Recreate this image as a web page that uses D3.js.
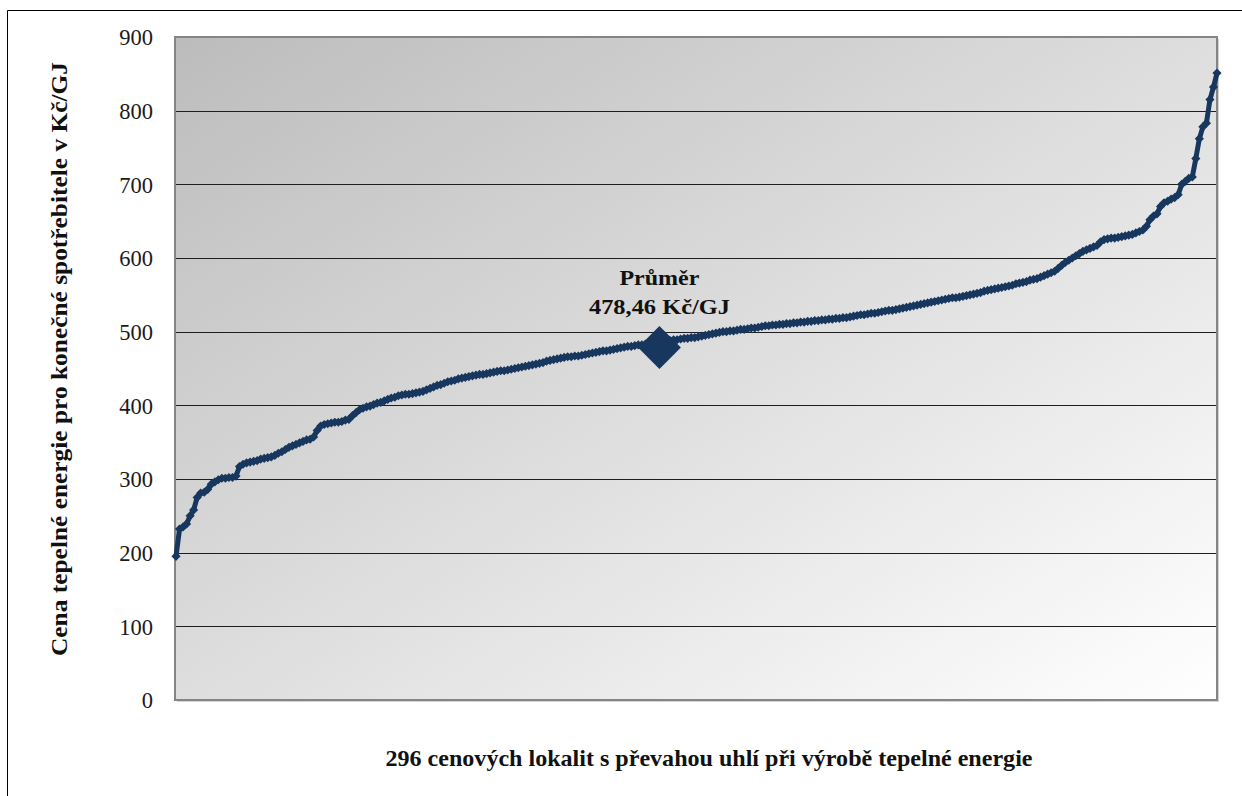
<!DOCTYPE html>
<html>
<head>
<meta charset="utf-8">
<script src="https://cdn.jsdelivr.net/npm/d3@7"></script>
<style>
  body { margin: 0; background: #fff; }
  text { font-family: "Liberation Serif", "Times New Roman", serif; }
</style>
</head>
<body>
<svg id="chart" width="1242" height="796"></svg>
<script>
// Heat price per locality (Kč/GJ), 296 localities sorted ascending
const prices = [
  195, 232, 235, 239, 250, 258, 275, 281, 282, 286,
  293, 296, 299, 301, 301, 302, 302, 304, 317, 320,
  322, 323, 324, 325, 327, 328, 329, 330, 332, 335,
  337, 340, 343, 345, 347, 349, 351, 353, 354, 357,
  366, 372, 374, 375, 376, 377, 377, 378, 380, 381,
  386, 390, 394, 396, 398, 399, 401, 403, 404, 406,
  408, 410, 411, 413, 414, 415, 415, 416, 417, 418,
  419, 421, 423, 425, 427, 428, 430, 432, 433, 434,
  436, 437, 438, 439, 440, 441, 442, 442, 443, 444,
  445, 446, 447, 447, 448, 449, 450, 451, 452, 453,
  454, 455, 456, 457, 458, 460, 461, 462, 463, 464,
  465, 466, 466, 467, 467, 468, 469, 470, 471, 472,
  473, 474, 474, 475, 476, 477, 478, 479, 480, 480,
  481, 482, 482, 483, 484, 484, 485, 486, 486, 487,
  488, 489, 489, 490, 491, 491, 492, 492, 493, 494,
  495, 496, 497, 498, 499, 500, 500, 501, 501, 502,
  503, 503, 504, 505, 505, 506, 507, 508, 508, 509,
  509, 510, 510, 511, 511, 512, 512, 513, 513, 514,
  514, 515, 515, 516, 516, 517, 517, 518, 518, 519,
  519, 520, 521, 522, 523, 523, 524, 525, 525, 526,
  527, 528, 529, 529, 530, 531, 532, 533, 534, 535,
  536, 537, 538, 539, 540, 541, 542, 543, 544, 545,
  546, 546, 547, 548, 549, 550, 551, 552, 553, 555,
  556, 557, 558, 559, 560, 561, 562, 563, 565, 566,
  567, 568, 570, 571, 572, 574, 576, 578, 580, 582,
  586, 590, 594, 597, 600, 603, 606, 609, 611, 613,
  615, 617, 622, 625, 626, 627, 627, 628, 629, 630,
  631, 632, 634, 636, 638, 643, 652, 657, 660, 670,
  675, 677, 680, 682, 686, 700, 704, 708, 710, 735,
  762, 778, 783, 815, 832, 851
];
const yTicks = [0, 100, 200, 300, 400, 500, 600, 700, 800, 900];
const averageValue = [478.46];
const averageIndex = [137];
const averageLabel = ["Průměr", "478,46 Kč/GJ"];
const yTitle = "Cena tepelné energie pro konečné spotřebitele v Kč/GJ";
const xTitle = "296 cenových lokalit s převahou uhlí při výrobě tepelné energie";

const svg = d3.select("#chart");
const plot = { left: 175, right: 1217, top: 37, bottom: 700 };
const lineColor = "#17375e";
const serif = "'Liberation Serif', 'Times New Roman', serif";

const x = d3.scaleLinear().domain([0, prices.length - 1]).range([plot.left + 1, plot.right]);
const y = d3.scaleLinear().domain([0, 900]).range([plot.bottom, plot.top]);

// outer chart frame (top and left edges)
svg.append("path")
  .attr("d", "M7.5,796V10.5H1242")
  .attr("fill", "none").attr("stroke", "#000").attr("stroke-width", 1);

// plot background gradient
const defs = svg.append("defs");
const grad = defs.append("linearGradient").attr("id", "plotBg")
  .attr("x1", 0).attr("y1", 0).attr("x2", 1).attr("y2", 1);
grad.append("stop").attr("offset", "0%").attr("stop-color", "#bcbcbc");
grad.append("stop").attr("offset", "100%").attr("stop-color", "#ffffff");

// soft shadow under the plot area
svg.append("rect")
  .attr("x", plot.left + 2).attr("y", plot.top + 2)
  .attr("width", plot.right - plot.left).attr("height", plot.bottom - plot.top)
  .attr("fill", "#d4d4d4");
svg.append("rect")
  .attr("x", plot.left).attr("y", plot.top)
  .attr("width", plot.right - plot.left).attr("height", plot.bottom - plot.top)
  .attr("fill", "url(#plotBg)");

// horizontal gridlines
svg.append("g")
  .selectAll("line")
  .data(yTicks.filter(t => t > 0 && t < 900))
  .join("line")
  .attr("x1", plot.left).attr("x2", plot.right)
  .attr("y1", d => Math.round(y(d)) + 0.5).attr("y2", d => Math.round(y(d)) + 0.5)
  .attr("stroke", "#1e1e1e").attr("stroke-width", 1.2);

// plot border
svg.append("rect")
  .attr("x", plot.left).attr("y", plot.top)
  .attr("width", plot.right - plot.left).attr("height", plot.bottom - plot.top)
  .attr("fill", "none").attr("stroke", "#858585").attr("stroke-width", 2);

// y axis labels
const yAxis = d3.axisLeft(y).tickValues(yTicks).tickSize(0).tickPadding(0);
const gy = svg.append("g").attr("transform", `translate(${plot.left - 22},0)`).call(yAxis);
gy.attr("font-family", serif);
gy.select(".domain").remove();
gy.selectAll("text")
  .attr("font-size", 22.5).attr("fill", "#1a1a1a").attr("dy", "0.35em");

// price line with diamond markers
const line = d3.line().x((d, i) => x(i)).y(d => y(d));
svg.append("path")
  .datum(prices)
  .attr("d", line)
  .attr("fill", "none").attr("stroke", lineColor)
  .attr("stroke-width", 5).attr("stroke-linejoin", "round");

const smallDiamond = d3.symbol().type(d3.symbolSquare).size(42);
svg.append("g")
  .selectAll("path")
  .data(prices)
  .join("path")
  .attr("d", smallDiamond)
  .attr("transform", (d, i) => `translate(${x(i)},${y(d)}) rotate(45)`)
  .attr("fill", lineColor);

// average marker
const bigDiamond = d3.symbol().type(d3.symbolSquare).size(920);
svg.append("g")
  .selectAll("path")
  .data(averageValue)
  .join("path")
  .attr("d", bigDiamond)
  .attr("transform", (d, i) => `translate(${x(averageIndex[i])},${y(d)}) rotate(45)`)
  .attr("fill", lineColor);

// average label
const ax = x(averageIndex[0]);
svg.append("text")
  .attr("x", ax).attr("y", 285)
  .attr("text-anchor", "middle").attr("font-size", 22).attr("font-weight", "bold")
  .attr("textLength", 80).attr("lengthAdjust", "spacingAndGlyphs")
  .attr("fill", "#111")
  .text(averageLabel[0]);
svg.append("text")
  .attr("x", ax).attr("y", 314)
  .attr("text-anchor", "middle").attr("font-size", 22).attr("font-weight", "bold")
  .attr("textLength", 141).attr("lengthAdjust", "spacingAndGlyphs")
  .attr("fill", "#111")
  .text(averageLabel[1]);

// axis titles
svg.append("text")
  .attr("transform", "translate(67,359) rotate(-90)")
  .attr("text-anchor", "middle").attr("font-size", 23).attr("font-weight", "bold")
  .attr("textLength", 594).attr("lengthAdjust", "spacingAndGlyphs")
  .attr("fill", "#111")
  .text(yTitle);

svg.append("text")
  .attr("x", 709).attr("y", 766)
  .attr("text-anchor", "middle").attr("font-size", 23).attr("font-weight", "bold")
  .attr("textLength", 647).attr("lengthAdjust", "spacingAndGlyphs")
  .attr("fill", "#111")
  .text(xTitle);
</script>
</body>
</html>
